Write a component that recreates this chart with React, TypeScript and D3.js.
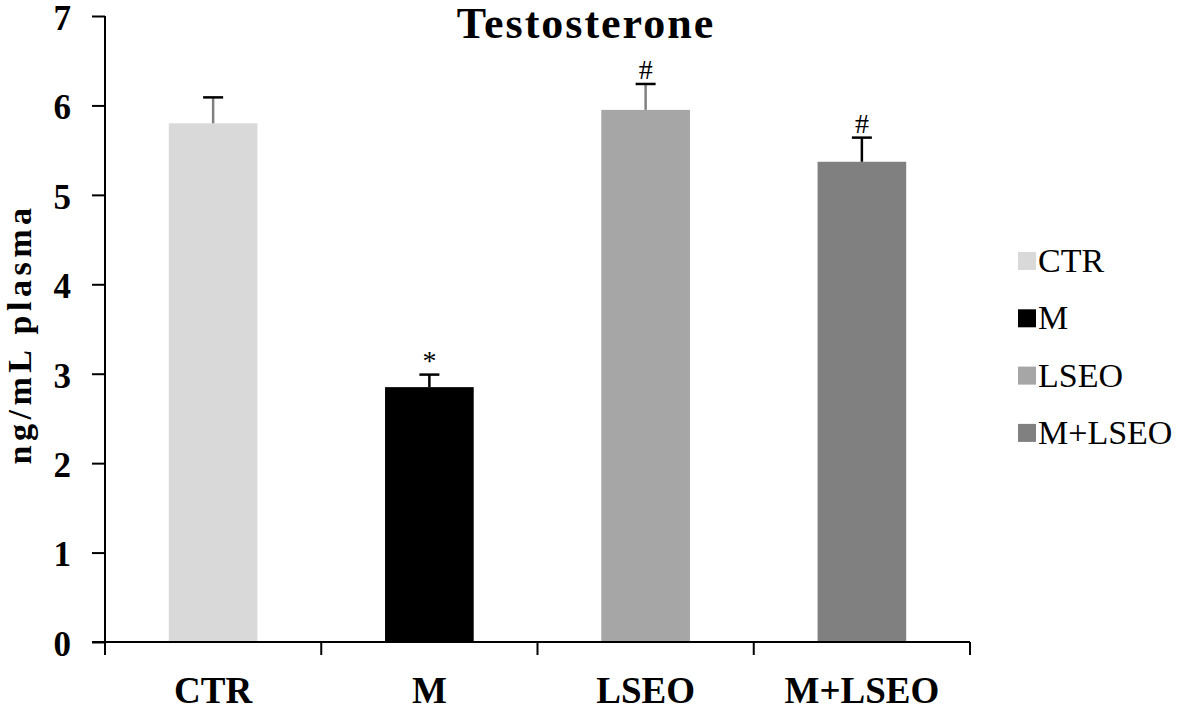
import React, { useEffect, useRef } from 'react';
import * as d3 from 'd3';

const groups = ['CTR', 'M', 'LSEO', 'M+LSEO'];
const means = [5.8, 2.85, 5.95, 5.37];
const errors = [0.29, 0.14, 0.29, 0.27];
const marks = ['', '*', '#', '#'];
const fills = ['#d9d9d9', '#000000', '#a6a6a6', '#808080'];
const stemColours = ['#808080', '#000000', '#808080', '#000000'];
const yTicks = [0, 1, 2, 3, 4, 5, 6, 7];

const App = () => {
  const ref = useRef<SVGSVGElement>(null);

  useEffect(() => {
    drawGraph();
  }, []);

  const width = 1181;
  const height = 710;
  const margin = { top: 16, right: 211, bottom: 68, left: 105 };

  const drawGraph = () => {
    const svg = d3.select(ref.current);
    svg.selectAll('*').remove();

    const font = '"Liberation Serif", "Times New Roman", serif';

    const x = d3.scaleBand()
      .domain(groups)
      .range([margin.left, width - margin.right])
      .paddingInner(0.59)
      .paddingOuter(0.295);

    const y = d3.scaleLinear()
      .domain([0, 7])
      .range([height - margin.bottom, margin.top]);

    // bars
    svg.selectAll('rect.bar')
      .data(groups)
      .enter()
      .append('rect')
        .attr('class', 'bar')
        .attr('x', d => x(d)!)
        .attr('width', x.bandwidth())
        .attr('y', (d, i) => y(means[i]))
        .attr('height', (d, i) => y(0) - y(means[i]))
        .attr('fill', (d, i) => fills[i]);

    // error bars (upper half only)
    const err = svg.selectAll('g.err')
      .data(groups)
      .enter()
      .append('g')
        .attr('class', 'err');

    err.append('line')
      .attr('x1', d => x(d)! + x.bandwidth() / 2)
      .attr('x2', d => x(d)! + x.bandwidth() / 2)
      .attr('y1', (d, i) => y(means[i]))
      .attr('y2', (d, i) => y(means[i] + errors[i]))
      .attr('stroke', (d, i) => stemColours[i])
      .attr('stroke-width', 2.5);

    err.append('line')
      .attr('x1', d => x(d)! + x.bandwidth() / 2 - 10)
      .attr('x2', d => x(d)! + x.bandwidth() / 2 + 10)
      .attr('y1', (d, i) => y(means[i] + errors[i]))
      .attr('y2', (d, i) => y(means[i] + errors[i]))
      .attr('stroke', '#000')
      .attr('stroke-width', 2.5);

    err.append('text')
      .attr('x', d => x(d)! + x.bandwidth() / 2)
      .attr('y', (d, i) => y(means[i] + errors[i]) - 5)
      .attr('text-anchor', 'middle')
      .style('font-family', font)
      .style('font-size', '28px')
      .text((d, i) => marks[i]);

    // y axis
    const yAxis = svg.append('g')
      .attr('transform', `translate(${margin.left},0)`)
      .call(d3.axisLeft(y).tickValues(yTicks).tickSize(13).tickPadding(21).tickFormat(d3.format('d')));
    yAxis.select('.domain')
      .attr('d', `M0,${y(7)}V${y(0) + 12}`)
      .attr('stroke-width', 2);
    yAxis.selectAll('.tick line').attr('stroke-width', 2);
    yAxis.selectAll('.tick text')
      .attr('dy', '0.38em')
      .style('font-family', font)
      .style('font-size', '35px')
      .style('font-weight', 'bold')
      .attr('fill', '#000');

    // x axis: ticks at the group boundaries
    const bounds = groups.map(g => x(g)! - x.step() * x.paddingInner() / 2);
    bounds.push(width - margin.right);
    const xAxis = svg.append('g')
      .attr('transform', `translate(0,${y(0)})`);
    xAxis.append('line')
      .attr('x1', margin.left - 13)
      .attr('x2', width - margin.right)
      .attr('stroke', '#000')
      .attr('stroke-width', 2);
    xAxis.selectAll('line.tk')
      .data(bounds)
      .enter()
      .append('line')
        .attr('class', 'tk')
        .attr('x1', d => d)
        .attr('x2', d => d)
        .attr('y1', 0)
        .attr('y2', 13)
        .attr('stroke', '#000')
        .attr('stroke-width', 2);
    xAxis.selectAll('text')
      .data(groups)
      .enter()
      .append('text')
        .attr('x', d => x(d)! + x.bandwidth() / 2)
        .attr('y', 61)
        .attr('text-anchor', 'middle')
        .style('font-family', font)
        .style('font-size', '37px')
        .style('font-weight', 'bold')
        .text(d => d);

    // title
    svg.append('text')
      .attr('x', 586)
      .attr('y', 38)
      .attr('text-anchor', 'middle')
      .style('font-family', font)
      .style('font-size', '44px')
      .style('font-weight', 'bold')
      .style('letter-spacing', '2px')
      .text('Testosterone');

    // y label
    svg.append('text')
      .attr('transform', 'translate(31,334) rotate(-90)')
      .attr('text-anchor', 'middle')
      .style('font-family', font)
      .style('font-size', '34px')
      .style('font-weight', 'bold')
      .style('letter-spacing', '4.5px')
      .text('ng/mL plasma');

    // legend
    const legend = svg.selectAll('g.legend')
      .data(groups)
      .enter()
      .append('g')
        .attr('class', 'legend')
        .attr('transform', (d, i) => `translate(1018,${261 + i * 57.3})`);
    legend.append('rect')
      .attr('x', 0)
      .attr('y', -9)
      .attr('width', 18)
      .attr('height', 18)
      .attr('fill', (d, i) => fills[i]);
    legend.append('text')
      .attr('x', 20)
      .attr('y', 11)
      .style('font-family', font)
      .style('font-size', '34px')
      .text(d => d);
  };

  return (
    <svg
      ref={ref}
      width={width}
      height={height}
      style={{ position: 'absolute', left: 0, top: 0, background: '#fff' }}
    />
  );
};

export default App;
